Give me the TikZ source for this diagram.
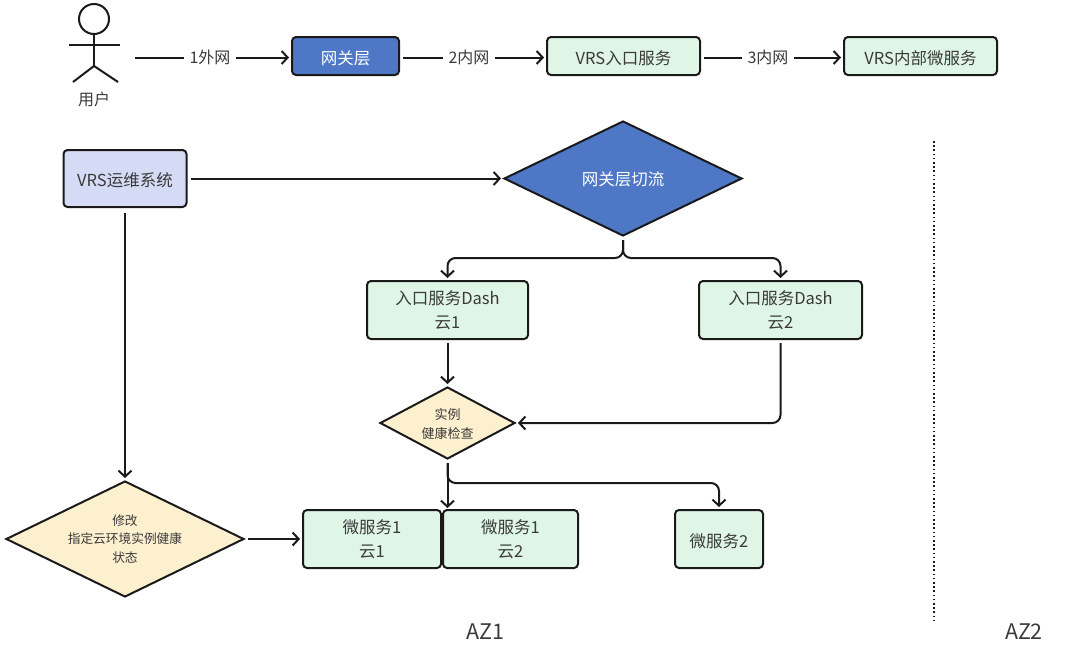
\documentclass[tikz,border=0pt]{standalone}
\usepackage{fontspec}
\setmainfont{Noto Sans CJK SC}
\usetikzlibrary{arrows.meta,shapes.geometric}
\definecolor{blueF}{HTML}{4E77C6}
\definecolor{greenF}{HTML}{DFF5E5}
\definecolor{lavF}{HTML}{D5DBF5}
\definecolor{yelF}{HTML}{FDF0CF}
\definecolor{txt}{HTML}{3A3A3A}
\definecolor{lineC}{HTML}{1A1A1A}
\tikzset{
  x=1pt,y=-1pt,
  boxbase/.style={draw=lineC,line width=2pt,rounded corners=4pt,inner sep=0pt,align=center,text=txt,font=\fontsize{16.5}{24}\selectfont,execute at begin node={\rule{0pt}{18pt}}},
  greenbox/.style={boxbase,fill=greenF},
  bluebox/.style={boxbase,fill=blueF,text=white},
  lavbox/.style={boxbase,fill=lavF},
  dia/.style={draw=lineC,line width=2pt,diamond,shape aspect=2,inner sep=-14pt,align=center,text=txt},
  wire/.style={draw=lineC,line width=2pt},
  conn/.style={wire,-{Straight Barb[length=6pt,width=13pt,line width=2pt]},shorten >=2pt,shorten <=3pt},
  lbl/.style={fill=white,text=txt,inner sep=5pt,font=\fontsize{16}{18}\selectfont},
  stick/.style={draw=lineC,line width=2pt},
  plain/.style={text=txt,inner sep=0pt}
}
\begin{document}
\begin{tikzpicture}
\useasboundingbox (0,0) rectangle (1080,646);
% person
\node[circle,draw=lineC,line width=2pt,minimum size=30pt,inner sep=0pt] (head) at (94,19) {};
\coordinate (hip) at (94,66);
\coordinate (armL) at (69,45);
\coordinate (armR) at (120,45);
\coordinate (legL) at (73,82);
\coordinate (legR) at (118,82);
\draw[stick] (head.south) -- (hip);
\draw[stick] (armL) -- (armR);
\draw[stick] (legL) -- (hip) -- (legR);
\node[plain,font=\fontsize{16}{18}\selectfont] (user) at (94,99) {用户};
% top row
\node[bluebox,minimum width=107pt,minimum height=38pt] (gate) at (345.5,56) {网关层};
\node[greenbox,minimum width=153pt,minimum height=38pt] (entry) at (623.5,56) {VRS入口服务};
\node[greenbox,minimum width=153pt,minimum height=38pt] (inner) at (920.5,56) {VRS内部微服务};
\node[lbl] (l1) at (210,57.5) {1外网};
\node[lbl] (l2) at (469,57.5) {2内网};
\node[lbl] (l3) at (768,57.5) {3内网};
\coordinate (userout) at (135,57.5);
% main
\node[lavbox,minimum width=123pt,minimum height=57pt] (ops) at (125,178.5) {VRS运维系统};
\node[dia,fill=blueF,text=white,minimum width=238pt,minimum height=115pt,font=\fontsize{16.5}{20}\selectfont] (switch) at (623,178.5) {\rule{0pt}{16pt}网关层切流};
\node[greenbox,minimum width=161pt,minimum height=58pt] (dash1) at (447.5,310) {入口服务Dash\\云1};
\node[greenbox,minimum width=163pt,minimum height=58pt] (dash2) at (780.5,310) {入口服务Dash\\云2};
\node[dia,fill=yelF,minimum width=135pt,minimum height=72pt,font=\fontsize{13}{19}\selectfont] (check) at (447.5,423) {\rule{0pt}{13pt}实例\\健康检查};
\node[dia,fill=yelF,minimum width=238pt,minimum height=116pt,font=\fontsize{12.7}{18.5}\selectfont] (modify) at (125,539) {修改\\指定云环境实例健康\\状态};
\node[greenbox,minimum width=138pt,minimum height=58pt] (ms1a) at (372,539) {微服务1\\云1};
\node[greenbox,minimum width=135pt,minimum height=58pt] (ms1b) at (510.5,539) {微服务1\\云2};
\node[greenbox,minimum width=88pt,minimum height=58pt] (ms2) at (719,539) {微服务2};
\node[plain,font=\fontsize{21.5}{24}\selectfont] (az1) at (485.5,632) {AZ1};
\node[plain,font=\fontsize{21.5}{24}\selectfont] (az2) at (1024,632) {AZ2};
\coordinate (dotT) at (934,141);
\coordinate (dotB) at (934,622);
\draw[draw=lineC,line width=1.6pt,dash pattern=on 1.6pt off 2.6pt] (dotT) -- (dotB);
% junctions
\coordinate (j1) at (623,258);
\coordinate (j2) at (447.5,483);
\coordinate (msTop) at (447.5,510);
\coordinate (modIn) at (780.5,423);
% connectors
\draw[wire] (userout) -- (l1.west);
\draw[conn,shorten <=0pt] (l1.east) -- (l1.east -| gate.west);
\draw[wire,shorten <=3pt] (l2.west -| gate.east) -- (l2.west);
\draw[conn,shorten <=0pt] (l2.east) -- (l2.east -| entry.west);
\draw[wire,shorten <=3pt] (l3.west -| entry.east) -- (l3.west);
\draw[conn,shorten <=0pt] (l3.east) -- (l3.east -| inner.west);
\draw[conn] (ops.east) -- (switch.west);
\draw[conn,shorten <=5pt] (ops.south) -- (modify.north);
\draw[conn,rounded corners=8pt] (switch.south) -- (j1) -| (dash1.north);
\draw[conn,rounded corners=8pt] (switch.south) -- (j1) -| (dash2.north);
\draw[conn] (dash1.south) -- (check.north);
\draw[conn,rounded corners=8pt] (dash2.south) -- (modIn) -- (check.east);
\draw[conn] (check.south) -- (msTop);
\draw[conn,rounded corners=8pt] (check.south) -- (j2) -| (ms2.north);
\draw[conn] (modify.east) -- (ms1a.west);
\end{tikzpicture}
\end{document}
